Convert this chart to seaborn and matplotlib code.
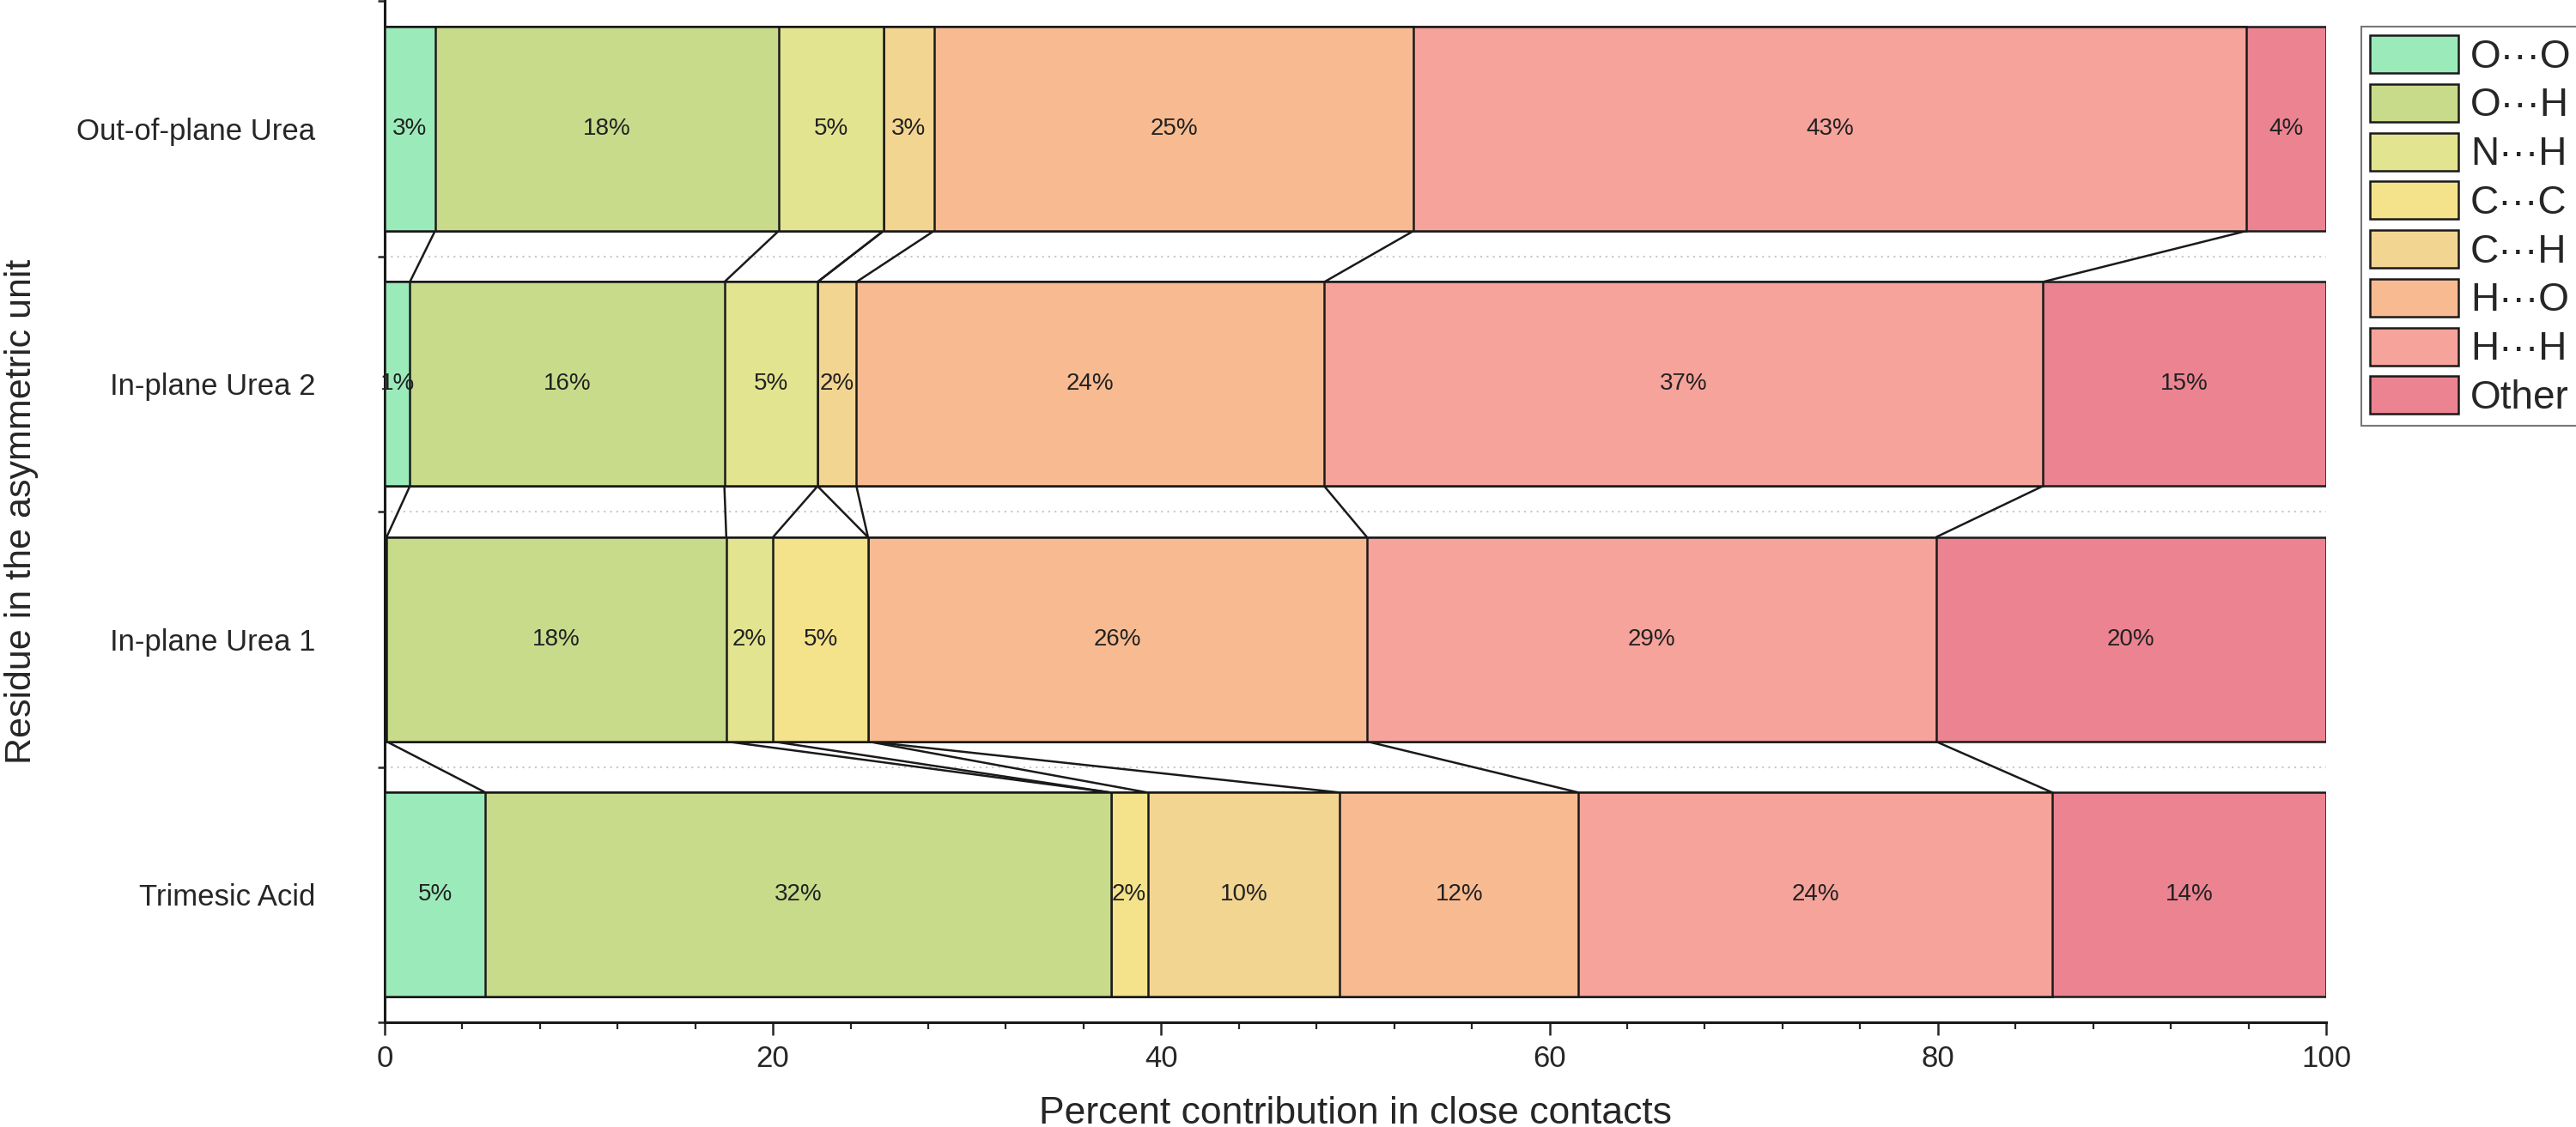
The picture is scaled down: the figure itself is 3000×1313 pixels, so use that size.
import numpy as np
import pandas as pd
import matplotlib
matplotlib.use('Agg')
import matplotlib.pyplot as plt
import seaborn as sns
from matplotlib.patches import Patch

# residues (top to bottom) and contact types (left to right)
residues = ['Out-of-plane Urea', 'In-plane Urea 2', 'In-plane Urea 1', 'Trimesic Acid']
contacts = ['O\u00b7\u00b7\u00b7O', 'O\u00b7\u00b7\u00b7H', 'N\u00b7\u00b7\u00b7H', 'C\u00b7\u00b7\u00b7C',
            'C\u00b7\u00b7\u00b7H', 'H\u00b7\u00b7\u00b7O', 'H\u00b7\u00b7\u00b7H', 'Other']

# percent contribution of each contact type, one list per residue
out_of_plane_urea = [2.6, 17.7, 5.4, 0.0, 2.6, 24.7, 42.9, 4.1]
in_plane_urea_2 = [1.3, 16.2, 4.8, 0.0, 2.0, 24.1, 37.0, 14.6]
in_plane_urea_1 = [0.1, 17.5, 2.4, 4.9, 0.0, 25.7, 29.3, 20.1]
trimesic_acid = [5.2, 32.2, 0.0, 1.9, 9.9, 12.3, 24.4, 14.1]

colors = ['#9BEBBA', '#C8DB8B', '#E3E48F', '#F4E38B',
          '#F3D592', '#F8BB91', '#F6A39B', '#EC8391']

values = np.array([out_of_plane_urea, in_plane_urea_2, in_plane_urea_1, trimesic_acid])
cum = np.cumsum(values, axis=1)
starts = cum - values

sns.set_style('ticks')
plt.rcParams['font.family'] = ['Liberation Sans', 'DejaVu Sans']

fig = plt.figure(figsize=(30, 13.13), dpi=100)
ax = fig.add_axes([0.1493, 0.0929, 0.7537, 0.9061])

bar_h = 0.8
edge_lw = 1.8

# stacked bars: draw cumulative totals from the last contact type to the first
for i in range(len(contacts) - 1, -1, -1):
    df = pd.DataFrame({'residue': residues, 'cum': cum[:, i]})
    sns.barplot(data=df, x='cum', y='residue', order=residues, orient='h',
                color=colors[i], saturation=1, width=bar_h, errorbar=None,
                edgecolor='#1a1a1a', linewidth=edge_lw, ax=ax, zorder=3)

# connecting lines between segment boundaries of neighbouring bars
for k in range(len(residues) - 1):
    for i in range(len(contacts) - 1):
        ax.plot([cum[k, i], cum[k + 1, i]], [k + bar_h / 2, k + 1 - bar_h / 2],
                color='#1a1a1a', lw=edge_lw, zorder=2, solid_capstyle='butt')

# value labels
for k in range(len(residues)):
    for i in range(len(contacts)):
        v = values[k, i]
        if v >= 0.5:
            ax.text(starts[k, i] + v / 2, k, f'{int(np.floor(v + 0.5))}%',
                    ha='center', va='center', fontsize=20, color='#222222', zorder=5)

# dotted separators between residues
for k in range(len(residues) - 1):
    ax.axhline(k + 0.5, color='#c8c8c8', lw=1.5, ls=(0, (1, 2.5)), zorder=1)

ax.set_xlim(0, 100)
ax.set_ylim(len(residues) - 0.5, -0.5)
ax.set_xticks(np.arange(0, 101, 20))
ax.set_xticks(np.arange(0, 101, 4), minor=True)
ax.set_yticks(range(len(residues)))
ax.set_yticklabels(residues)
ax.set_yticks(np.arange(-0.5, len(residues), 1), minor=True)

ax.tick_params(axis='x', which='major', length=11, width=1.8, pad=8, labelsize=25, direction='out')
ax.tick_params(axis='x', which='minor', length=6, width=1.6, direction='out')
ax.tick_params(axis='y', which='major', length=0, pad=58, labelsize=25)
ax.tick_params(axis='y', which='minor', length=6, width=1.8, direction='out')

ax.set_xlabel('Percent contribution in close contacts', fontsize=32)
ax.set_ylabel('Residue in the asymmetric unit', fontsize=31)
ax.xaxis.set_label_coords(0.5, -0.072)
ax.yaxis.set_label_coords(-0.178, 0.5)

sns.despine(ax=ax)
for s in ['left', 'bottom']:
    ax.spines[s].set_linewidth(2.2)
    ax.spines[s].set_color('#1a1a1a')

handles = [Patch(facecolor=c, edgecolor='#1a1a1a', linewidth=edge_lw, label=l)
           for c, l in zip(colors, contacts)]
leg = ax.legend(handles=handles, loc='upper left', bbox_to_anchor=(0.9167, 0.9764),
                bbox_transform=fig.transFigure, borderaxespad=0, fontsize=33,
                frameon=True, fancybox=False, edgecolor='#555555',
                handlelength=2.25, handleheight=1.1, labelspacing=0.2,
                handletextpad=0.3, borderpad=0.22)
leg.get_frame().set_linewidth(1.5)

fig.savefig('out.png', dpi=100)
